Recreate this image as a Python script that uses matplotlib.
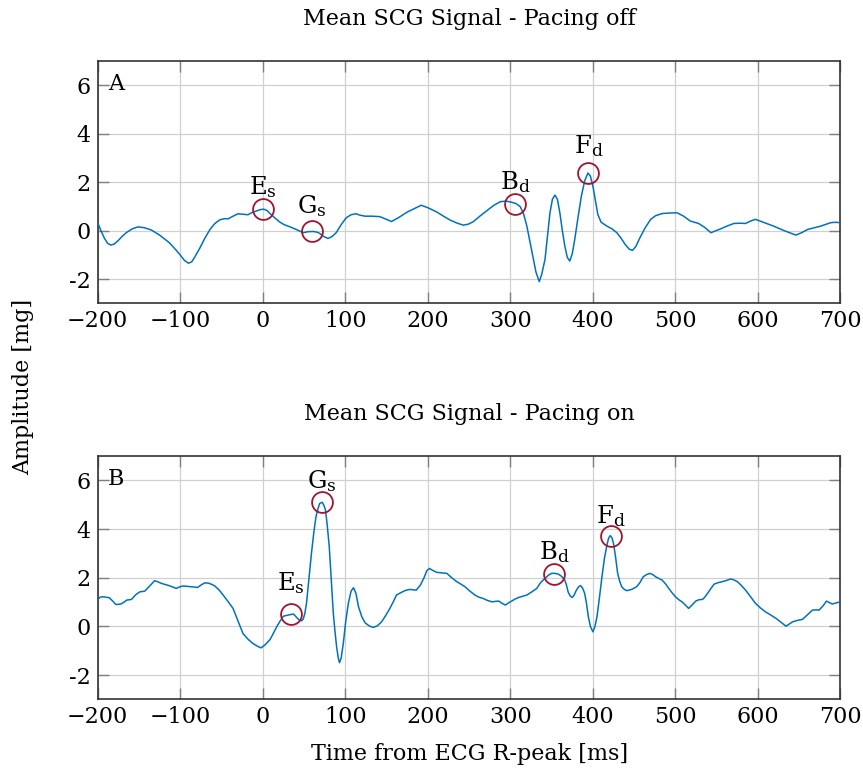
import numpy as np
import matplotlib.pyplot as plt

plt.rcParams['font.family'] = ['DejaVu Serif']
plt.rcParams['mathtext.fontset'] = 'dejavuserif'

# mean SCG, pacing off
t_off = [-200, -196, -192, -188, -184, -180, -175, -170, -165, -158, -151, -143, -135, -125,
         -113, -105, -100, -95, -90, -86, -83, -76, -70, -64, -58, -52, -46, -42, -36, -30,
         -24, -18, -13, -8, -3, 1, 5, 10, 15, 20, 26, 33, 40, 49, 55, 61, 66, 69, 74, 79,
         84, 89, 95, 101, 107, 113, 118, 124, 133, 142, 149, 156, 165, 175, 183, 192, 200,
         211, 219, 227, 235, 243, 249, 255, 263, 271, 280, 288, 295, 301, 307, 312, 316,
         320, 324, 328, 331, 335, 338, 342, 345, 348, 351, 354, 357, 360, 363, 366, 369,
         372, 375, 378, 382, 386, 390, 394, 397, 400, 403, 406, 410, 417, 423, 429, 434,
         439, 444, 448, 452, 457, 463, 470, 476, 484, 493, 502, 510, 518, 528, 535, 543,
         549, 555, 563, 571, 578, 585, 591, 597, 608, 619, 632, 646, 653, 660, 668, 676,
         688, 694, 700]
a_off = [0.33, 0.00, -0.30, -0.52, -0.59, -0.55, -0.40, -0.22, -0.07, 0.08, 0.16, 0.12, 0.03,
         -0.18, -0.50, -0.80, -1.00, -1.22, -1.34, -1.28, -1.12, -0.70, -0.30, 0.05, 0.30,
         0.45, 0.50, 0.49, 0.60, 0.70, 0.68, 0.66, 0.75, 0.81, 0.87, 0.89, 0.84, 0.67, 0.52,
         0.37, 0.25, 0.16, 0.06, -0.08, -0.04, -0.03, -0.06, -0.11, -0.24, -0.32, -0.24,
         -0.08, 0.25, 0.53, 0.66, 0.70, 0.64, 0.60, 0.60, 0.58, 0.48, 0.38, 0.55, 0.77,
         0.90, 1.05, 0.95, 0.77, 0.60, 0.44, 0.32, 0.23, 0.27, 0.37, 0.60, 0.81, 1.05, 1.20,
         1.22, 1.18, 1.12, 0.99, 0.70, 0.19, -0.50, -1.18, -1.70, -2.10, -1.80, -1.18, -0.20,
         0.74, 1.30, 1.47, 1.30, 0.74, 0.00, -0.63, -1.10, -1.25, -0.95, -0.36, 0.55, 1.42,
         2.05, 2.38, 2.25, 1.84, 1.25, 0.67, 0.35, 0.19, 0.08, -0.08, -0.30, -0.56, -0.76,
         -0.81, -0.65, -0.29, 0.10, 0.47, 0.62, 0.71, 0.73, 0.74, 0.60, 0.40, 0.30, 0.15,
         -0.08, 0.00, 0.08, 0.20, 0.30, 0.31, 0.30, 0.40, 0.47, 0.33, 0.19, 0.00, -0.18,
         -0.08, 0.05, 0.12, 0.19, 0.33, 0.35, 0.33]

# mean SCG, pacing on
t_on = [-200, -197, -194, -190, -186, -182, -178, -172, -168, -165, -159, -154, -149, -143,
        -137, -131, -127, -123, -118, -113, -109, -105, -101, -97, -92, -87, -83, -79, -74,
        -70, -66, -62, -58, -53, -48, -42, -36, -30, -24, -18, -12, -6, -2, 3, 9, 13, 17,
        21, 25, 31, 34, 37, 39, 41, 44, 47, 49, 51, 53, 55, 57, 59, 62, 64.5, 67, 69, 72,
        74, 76, 78, 80.6, 83, 85.5, 87.5, 89.5, 91.5, 93, 95, 97.6, 100.5, 103.7, 107, 110,
        113, 116, 120, 124, 129, 134, 139, 144, 149, 154, 158, 162, 168, 173, 178, 186, 191,
        195, 199, 202, 206, 211, 217, 223, 229, 235, 240, 245, 251, 257, 262, 267, 272, 278,
        282, 286, 290, 294, 298, 302, 306, 310, 315, 320, 326, 332, 336, 339, 342, 346, 350,
        354, 358, 362, 366, 368, 370, 372.5, 375, 377.5, 380, 382.5, 385, 387.5, 390, 392,
        394.5, 397, 400, 402.5, 405, 408, 411, 414, 417, 419, 421, 423, 425, 427.5, 430,
        432.5, 435, 438, 441, 447, 453, 457, 461, 465, 469, 473, 476, 480, 484, 488, 492,
        496, 500, 504, 508, 512, 516, 520, 525, 529, 533, 536, 539, 543, 547, 552, 557, 562,
        567, 571, 575, 580, 585, 591, 597, 603, 609, 615, 622, 628, 634, 638, 642, 648, 654,
        660, 666, 670, 674, 679, 683, 687, 690, 695, 700]
a_on = [1.11, 1.20, 1.22, 1.20, 1.18, 1.05, 0.90, 0.92, 1.00, 1.08, 1.11, 1.30, 1.42, 1.45,
        1.66, 1.88, 1.83, 1.77, 1.72, 1.67, 1.62, 1.56, 1.62, 1.66, 1.65, 1.63, 1.62, 1.60,
        1.72, 1.79, 1.78, 1.73, 1.66, 1.50, 1.29, 1.02, 0.74, 0.22, -0.29, -0.52, -0.70,
        -0.82, -0.88, -0.75, -0.53, -0.27, -0.01, 0.22, 0.42, 0.47, 0.49, 0.51, 0.45, 0.37,
        0.27, 0.23, 0.30, 0.53, 0.95, 1.63, 2.30, 3.00, 3.90, 4.51, 4.85, 5.05, 5.10, 4.98,
        4.78, 4.20, 3.27, 1.90, 0.53, -0.20, -0.84, -1.30, -1.49, -1.30, -0.70, 0.20, 0.95,
        1.45, 1.59, 1.35, 0.81, 0.40, 0.15, 0.02, -0.04, 0.03, 0.19, 0.45, 0.74, 1.00, 1.29,
        1.40, 1.48, 1.52, 1.49, 1.70, 1.97, 2.30, 2.38, 2.30, 2.22, 2.20, 2.18, 2.00, 1.84,
        1.74, 1.63, 1.45, 1.29, 1.20, 1.15, 1.07, 1.01, 1.03, 1.04, 0.95, 0.88, 0.97, 1.05,
        1.13, 1.19, 1.24, 1.29, 1.42, 1.56, 1.77, 1.88, 1.97, 2.10, 2.18, 2.18, 2.15, 2.06,
        1.90, 1.70, 1.42, 1.25, 1.19, 1.30, 1.49, 1.62, 1.68, 1.58, 1.36, 1.00, 0.40, 0.00,
        -0.22, 0.00, 0.40, 1.20, 2.04, 2.80, 3.34, 3.62, 3.73, 3.65, 3.41, 2.85, 2.18, 1.85,
        1.63, 1.52, 1.47, 1.52, 1.63, 1.80, 2.04, 2.13, 2.18, 2.12, 2.04, 1.97, 1.90, 1.75,
        1.56, 1.38, 1.22, 1.10, 1.01, 0.88, 0.74, 0.88, 1.05, 1.10, 1.11, 1.22, 1.36, 1.56,
        1.74, 1.80, 1.84, 1.89, 1.95, 1.91, 1.84, 1.68, 1.49, 1.22, 0.95, 0.76, 0.60, 0.48,
        0.33, 0.17, 0.01, 0.10, 0.19, 0.25, 0.29, 0.48, 0.67, 0.68, 0.67, 0.85, 1.04, 0.97,
        0.92, 0.97, 1.01]

# marked points
pts_names = ['E', 'G', 'B', 'F']
pts_subs = ['s', 's', 'd', 'd']
pts_t_off = [0, 59.5, 306, 394.5]
pts_a_off = [0.88, 0.0, 1.1, 2.40]
pts_t_on = [34.4, 71.6, 353, 422]
pts_a_on = [0.53, 5.12, 2.14, 3.71]
lab_dy_off = [10.8, 12.7, 10.6, 14.2]
lab_dy_on = [16.8, 9.6, 11.0, 9.1]

xticks = [-200, -100, 0, 100, 200, 300, 400, 500, 600, 700]
xticklabels = ['\u2212200', '\u2212100', '0', '100', '200', '300', '400', '500', '600', '700']
yticks = [-2, 0, 2, 4, 6]
yticklabels = ['-2', '0', '2', '4', '6']

fs = 16
fs_ann = 17.5
fig = plt.figure(figsize=(8.63, 7.73), dpi=100)
ax1 = fig.add_axes([0.1132, 0.6074, 0.8607, 0.3137])
ax2 = fig.add_axes([0.1132, 0.0951, 0.8607, 0.315])

panels = [(ax1, t_off, a_off, pts_t_off, pts_a_off, lab_dy_off, 'A'),
          (ax2, t_on, a_on, pts_t_on, pts_a_on, lab_dy_on, 'B')]

for ax, t, a, pt, pa, dy, letter in panels:
    ax.plot(t, a, color='#0072BD', lw=1.1, zorder=3)
    ax.plot(pt, pa, 'o', mfc='none', mec='#A2142F', ms=15, mew=1.3, zorder=4)
    for i in range(len(pt)):
        ax.annotate(pts_names[i] + '$_\\mathrm{' + pts_subs[i] + '}$', (pt[i], pa[i]),
                    xytext=(0, dy[i]), textcoords='offset points',
                    ha='center', va='baseline', fontsize=fs_ann, zorder=5)
    ax.set_xlim(-200, 700)
    ax.set_ylim(-3, 7)
    ax.set_xticks(xticks)
    ax.set_xticklabels(xticklabels)
    ax.set_yticks(yticks)
    ax.set_yticklabels(yticklabels)
    ax.grid(True, color='#d0d0d0', lw=0.9)
    ax.set_axisbelow(True)
    ax.tick_params(direction='in', length=8, width=1.0, color='#808080',
                   top=True, right=True, labelsize=fs, pad=5)
    for s in ax.spines.values():
        s.set_color('#333333')
        s.set_linewidth(1.2)
    ax.text(0.014, 0.882, letter, transform=ax.transAxes, fontsize=fs, va='baseline')

fig.text(0.5435, 0.9677, 'Mean SCG Signal - Pacing off', ha='center', va='baseline', fontsize=fs)
fig.text(0.5435, 0.4567, 'Mean SCG Signal - Pacing on', ha='center', va='baseline', fontsize=fs)
fig.text(0.5445, 0.0168, 'Time from ECG R-peak [ms]', ha='center', va='baseline', fontsize=fs)
fig.text(0.027, 0.50, 'Amplitude [mg]', rotation=90, ha='center', va='center', fontsize=fs)

plt.savefig('out.png', dpi=100)
